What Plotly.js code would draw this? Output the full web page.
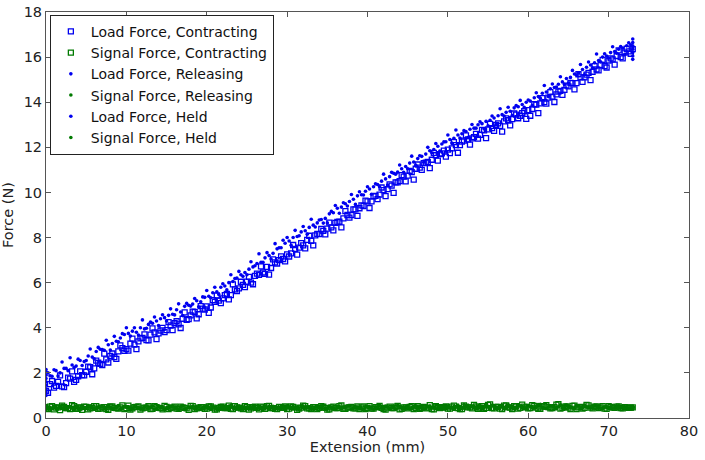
<!DOCTYPE html>
<html>
<head>
<meta charset="utf-8">
<script src="https://cdn.plot.ly/plotly-3.0.1.min.js"></script>
<style>html,body{margin:0;padding:0;background:#fff;}#chart{width:705px;height:460px;}</style>
</head>
<body>
<div id="chart"></div>
<script>
// Extension (mm) sample positions
const extA = [0,0.5,1,1.5,2,2.5,3,3.5,4,4.5,5,5.5,6,6.5,7,7.5,8,8.5,9,9.5,10,10.5,11,11.5,12,12.5,13,13.5,14,14.5,15,15.5,16,16.5,17,17.5,18,18.5,19,19.5,20,20.5,21,21.5,22,22.5,23,23.5,24,24.5,25,25.5,26,26.5,27,27.5,28,28.5,29,29.5,30,30.5,31,31.5,32,32.5,33,33.5,34,34.5,35,35.5,36,36.5,37,37.5,38,38.5,39,39.5,40,40.5,41,41.5,42,42.5,43,43.5,44,44.5,45,45.5,46,46.5,47,47.5,48,48.5,49,49.5,50,50.5,51,51.5,52,52.5,53,53.5,54,54.5,55,55.5,56,56.5,57,57.5,58,58.5,59,59.5,60,60.5,61,61.5,62,62.5,63,63.5,64,64.5,65,65.5,66,66.5,67,67.5,68,68.5,69,69.5,70,70.5,71,71.5,72,72.5,73];
const extB = [0.25,0.75,1.25,1.75,2.25,2.75,3.25,3.75,4.25,4.75,5.25,5.75,6.25,6.75,7.25,7.75,8.25,8.75,9.25,9.75,10.25,10.75,11.25,11.75,12.25,12.75,13.25,13.75,14.25,14.75,15.25,15.75,16.25,16.75,17.25,17.75,18.25,18.75,19.25,19.75,20.25,20.75,21.25,21.75,22.25,22.75,23.25,23.75,24.25,24.75,25.25,25.75,26.25,26.75,27.25,27.75,28.25,28.75,29.25,29.75,30.25,30.75,31.25,31.75,32.25,32.75,33.25,33.75,34.25,34.75,35.25,35.75,36.25,36.75,37.25,37.75,38.25,38.75,39.25,39.75,40.25,40.75,41.25,41.75,42.25,42.75,43.25,43.75,44.25,44.75,45.25,45.75,46.25,46.75,47.25,47.75,48.25,48.75,49.25,49.75,50.25,50.75,51.25,51.75,52.25,52.75,53.25,53.75,54.25,54.75,55.25,55.75,56.25,56.75,57.25,57.75,58.25,58.75,59.25,59.75,60.25,60.75,61.25,61.75,62.25,62.75,63.25,63.75,64.25,64.75,65.25,65.75,66.25,66.75,67.25,67.75,68.25,68.75,69.25,69.75,70.25,70.75,71.25,71.75,72.25,72.75];
const extHeld = [0,0,0,0,0,0,0,0,73,73,73,73,73,73,73];

// Force (N): load, contracting (pass 1 at extA, pass 2 at extB)
const loadContractingA = [1.2,1.5,1.35,1.6,1.4,1.55,1.75,1.6,1.85,1.9,
2.05,2.25,2.2,2.45,2.35,2.6,2.75,2.7,2.95,3.1,
3.05,3.3,3.25,3.4,3.55,3.45,3.7,3.8,3.75,4.0,
3.9,4.1,4.2,4.15,4.4,4.35,4.55,4.7,4.6,4.85,
4.95,4.9,5.15,5.2,5.3,5.5,5.45,5.7,5.75,5.9,
6.05,6.0,6.3,6.35,6.45,6.7,6.65,6.9,7.0,7.05,
7.25,7.3,7.5,7.55,7.65,7.9,7.85,8.1,8.15,8.3,
8.4,8.45,8.65,8.7,8.85,9.0,9.0,9.25,9.3,9.4,
9.6,9.6,9.85,9.9,10.1,10.15,10.3,10.45,10.5,10.7,
10.75,10.9,11.05,11.1,11.3,11.35,11.45,11.65,11.7,11.85,
11.9,11.95,12.1,12.1,12.3,12.35,12.4,12.6,12.55,12.75,
12.8,12.85,13.0,12.95,13.15,13.2,13.25,13.45,13.4,13.6,
13.65,13.7,13.9,13.95,14.0,14.2,14.25,14.35,14.5,14.55,
14.7,14.85,14.85,15.1,15.1,15.3,15.35,15.45,15.65,15.6,
15.85,15.9,16.05,16.0,16.2,16.25,16.35];
const loadContractingB = [1.12,1.64,1.42,1.89,1.37,1.79,2.07,1.69,2.07,1.89,
2.28,1.94,2.54,2.4,2.85,2.46,2.86,2.62,3.22,2.98,
2.99,3.52,3.05,3.53,3.71,3.44,3.97,3.5,3.88,3.81,
4.25,3.9,4.29,3.99,4.68,4.38,4.72,4.42,4.96,4.81,
4.66,5.22,5.43,5.09,5.45,5.26,5.92,5.63,6.04,5.8,
6.26,5.93,6.4,6.72,6.39,6.36,7.03,6.85,7.17,6.94,
7.16,7.67,7.24,7.75,7.52,8.08,7.65,8.16,8.38,8.14,
8.66,8.32,8.69,8.45,9.17,8.88,9.25,8.96,9.43,9.64,
9.31,9.83,9.7,10.22,9.84,10.36,9.98,10.45,10.77,10.49,
10.96,10.57,11.24,11.0,11.32,11.08,11.75,11.41,11.73,11.59,
11.74,12.23,11.76,12.25,12.53,12.12,12.45,12.39,12.77,12.41,
13.04,12.73,13.06,12.7,13.28,12.97,13.5,13.29,13.52,13.26,
13.4,13.91,13.52,14.18,13.94,14.45,14.01,14.47,14.33,14.74,
14.86,14.57,15.24,14.9,15.22,14.98,15.6,15.41,15.88,15.54,
15.94,15.67,16.3,15.94,16.37,16.15];

// Force (N): load, releasing (pass 1 at extB, pass 2 at extA)
const loadReleasingB = [2.0,1.85,2.1,2.0,2.2,2.1,2.35,2.3,2.55,2.5,
2.75,2.7,2.95,3.05,3.0,3.25,3.3,3.4,3.55,3.7,
3.75,3.85,3.8,4.0,3.95,4.15,4.2,4.3,4.4,4.45,
4.55,4.6,4.8,4.7,4.95,5.0,5.05,5.2,5.15,5.35,
5.4,5.55,5.6,5.8,5.85,6.0,6.05,6.2,6.35,6.45,
6.6,6.7,6.85,6.9,7.1,7.2,7.3,7.5,7.55,7.75,
7.85,8.0,8.05,8.25,8.3,8.45,8.55,8.65,8.8,8.85,
9.05,9.1,9.3,9.35,9.5,9.6,9.7,9.85,9.9,10.05,
10.15,10.25,10.35,10.5,10.6,10.7,10.85,10.9,11.05,11.15,
11.3,11.35,11.5,11.6,11.7,11.85,11.9,12.05,12.15,12.25,
12.35,12.4,12.55,12.6,12.7,12.8,12.85,13.0,13.05,13.15,
13.2,13.3,13.4,13.45,13.55,13.6,13.75,13.8,13.9,14.0,
14.05,14.2,14.25,14.4,14.45,14.6,14.65,14.8,14.9,15.05,
15.1,15.25,15.3,15.45,15.55,15.65,15.75,15.85,16.0,16.05,
16.2,16.25,16.35,16.4,16.5,16.55];
const loadReleasingA = [2.15,1.87,2.14,1.86,2.48,2.2,2.67,2.24,2.61,2.33,
2.55,3.06,2.62,3.13,3.04,3.45,3.01,3.62,3.38,3.74,
4.0,3.63,4.0,3.68,4.35,3.98,4.25,4.48,4.1,4.58,
4.3,4.84,4.57,5.06,4.54,5.08,4.96,5.3,4.93,5.37,
5.65,5.33,5.8,5.48,5.95,5.68,6.35,6.18,6.5,6.28,
6.35,6.93,6.75,7.28,6.9,7.33,7.05,7.73,7.55,7.88,
8.0,7.66,8.32,8.08,8.49,8.15,8.81,8.47,8.78,8.64,
8.65,9.16,9.42,9.08,9.54,9.4,9.91,9.47,10.03,9.89,
10.25,9.92,10.38,10.25,10.81,10.33,10.89,10.81,11.22,10.89,
11.05,11.61,11.22,11.63,11.34,12.0,11.76,12.17,11.83,12.24,
12.55,12.19,12.77,12.41,12.74,12.43,13.01,12.85,13.13,12.82,
12.95,13.39,13.02,13.71,13.39,13.78,13.41,13.85,14.08,13.77,
14.1,13.86,14.42,14.18,14.74,14.25,14.81,14.67,15.13,14.79,
14.85,15.41,15.21,15.67,15.22,15.78,15.53,16.14,15.79,16.15,
15.95,16.46,16.17,16.47,16.13,16.64,16.45];

// Force (N): signal, contracting (extA, extB)
const signalContractingA = [0.42,0.5,0.38,0.47,0.55,0.44,0.4,0.52,0.46,0.36,
0.49,0.43,0.53,0.41,0.47,0.39,0.5,0.45,0.42,0.56,
0.44,0.37,0.48,0.51,0.43,0.46,0.4,0.52,0.45,0.38,
0.49,0.44,0.5,0.41,0.47,0.43,0.54,0.39,0.46,0.48,
0.42,0.51,0.37,0.45,0.5,0.44,0.41,0.53,0.46,0.4,
0.48,0.43,0.5,0.38,0.47,0.52,0.44,0.41,0.49,0.45,
0.39,0.51,0.46,0.42,0.55,0.43,0.4,0.48,0.45,0.5,
0.37,0.47,0.44,0.52,0.41,0.46,0.49,0.43,0.39,0.51,
0.45,0.42,0.48,0.54,0.4,0.46,0.44,0.5,0.38,0.47,
0.43,0.52,0.45,0.41,0.49,0.46,0.4,0.53,0.44,0.48,
0.42,0.5,0.45,0.39,0.56,0.47,0.43,0.51,0.46,0.41,
0.58,0.44,0.49,0.42,0.55,0.47,0.4,0.52,0.45,0.5,
0.43,0.57,0.46,0.41,0.53,0.48,0.44,0.59,0.42,0.5,
0.46,0.54,0.4,0.49,0.45,0.56,0.43,0.51,0.47,0.42,
0.52,0.46,0.5,0.44,0.48,0.45,0.47];
const signalContractingB = [0.4,0.52,0.46,0.35,0.49,0.44,0.57,0.41,0.47,0.5,
0.38,0.45,0.53,0.42,0.48,0.36,0.51,0.44,0.47,0.4,
0.55,0.43,0.49,0.37,0.46,0.52,0.41,0.48,0.44,0.54,
0.39,0.47,0.42,0.5,0.45,0.36,0.53,0.43,0.48,0.41,
0.51,0.46,0.38,0.49,0.44,0.55,0.4,0.47,0.43,0.52,
0.37,0.48,0.45,0.5,0.41,0.54,0.44,0.39,0.47,0.51,
0.42,0.49,0.36,0.46,0.53,0.43,0.48,0.4,0.52,0.45,
0.38,0.5,0.44,0.56,0.41,0.47,0.43,0.51,0.46,0.39,
0.53,0.42,0.48,0.45,0.37,0.5,0.44,0.54,0.41,0.47,
0.49,0.4,0.52,0.45,0.43,0.57,0.38,0.48,0.46,0.51,
0.42,0.55,0.44,0.39,0.5,0.47,0.58,0.41,0.53,0.45,
0.6,0.43,0.49,0.4,0.56,0.46,0.52,0.42,0.59,0.47,
0.44,0.54,0.41,0.5,0.57,0.43,0.48,0.61,0.45,0.51,
0.4,0.55,0.47,0.42,0.58,0.46,0.5,0.44,0.53,0.41,
0.49,0.45,0.51,0.43,0.47,0.46];

// Force (N): signal, releasing (extB, extA)
const signalReleasingB = [0.47,0.41,0.53,0.45,0.38,0.5,0.44,0.48,0.35,0.46,
0.52,0.43,0.4,0.49,0.45,0.57,0.42,0.47,0.39,0.51,
0.46,0.43,0.5,0.4,0.48,0.44,0.53,0.41,0.47,0.36,
0.45,0.51,0.43,0.49,0.4,0.46,0.52,0.44,0.38,0.48,
0.45,0.5,0.42,0.47,0.39,0.53,0.44,0.41,0.49,0.46,
0.43,0.51,0.4,0.47,0.45,0.38,0.52,0.44,0.48,0.42,
0.5,0.46,0.41,0.54,0.43,0.47,0.39,0.49,0.45,0.42,
0.51,0.44,0.48,0.4,0.46,0.53,0.43,0.47,0.41,0.5,
0.45,0.38,0.49,0.44,0.52,0.42,0.47,0.55,0.43,0.46,
0.4,0.5,0.45,0.48,0.42,0.53,0.44,0.39,0.47,0.51,
0.46,0.43,0.57,0.41,0.49,0.45,0.52,0.44,0.48,0.6,
0.42,0.5,0.46,0.55,0.43,0.49,0.41,0.58,0.47,0.45,
0.52,0.44,0.6,0.48,0.42,0.54,0.46,0.5,0.43,0.57,
0.47,0.41,0.53,0.45,0.49,0.44,0.55,0.46,0.42,0.5,
0.48,0.45,0.52,0.44,0.47,0.46];
const signalReleasingA = [0.45,0.39,0.51,0.43,0.56,0.41,0.48,0.37,0.5,0.44,
0.47,0.54,0.4,0.46,0.52,0.38,0.49,0.43,0.55,0.42,
0.48,0.36,0.5,0.45,0.41,0.53,0.47,0.39,0.51,0.44,
0.42,0.49,0.46,0.37,0.54,0.43,0.48,0.4,0.5,0.45,
0.53,0.38,0.47,0.44,0.51,0.41,0.56,0.43,0.46,0.39,
0.49,0.45,0.42,0.52,0.37,0.48,0.44,0.5,0.4,0.47,
0.54,0.43,0.46,0.38,0.51,0.45,0.41,0.49,0.44,0.55,
0.42,0.47,0.39,0.5,0.46,0.53,0.4,0.48,0.44,0.37,
0.51,0.43,0.47,0.56,0.41,0.49,0.45,0.39,0.52,0.44,
0.48,0.42,0.54,0.46,0.4,0.5,0.43,0.58,0.47,0.41,
0.53,0.45,0.49,0.42,0.6,0.46,0.51,0.4,0.55,0.44,
0.48,0.57,0.43,0.52,0.41,0.59,0.47,0.45,0.54,0.42,
0.56,0.44,0.5,0.61,0.43,0.48,0.52,0.41,0.58,0.46,
0.5,0.44,0.55,0.42,0.57,0.47,0.45,0.52,0.43,0.49,
0.46,0.44,0.5,0.45,0.48,0.43,0.47];

// Force (N): held
const loadHeld = [1.0,1.15,1.3,1.45,1.6,1.75,1.9,2.05,15.9,16.05,16.2,16.35,16.5,16.65,16.8];
const signalHeld = [0.38,0.45,0.52,0.42,0.5,0.4,0.47,0.55,0.4,0.47,0.52,0.44,0.5,0.42,0.48];

const seriesNames = ['Load Force, Contracting','Signal Force, Contracting','Load Force, Releasing','Signal Force, Releasing','Load Force, Held','Signal Force, Held'];

const BLUE = '#0000f0', GREEN = '#007a00';
const sq = c => ({symbol:'square-open', size:5, color:c, line:{width:1.3, color:c}});
const dot = c => ({symbol:'circle', size:3.6, color:c, line:{width:0}});

const traces = [
  {x: extA.concat(extB), y: loadContractingA.concat(loadContractingB), name: seriesNames[0], mode:'markers', type:'scatter', marker: sq(BLUE)},
  {x: extA.concat(extB), y: signalContractingA.concat(signalContractingB), name: seriesNames[1], mode:'markers', type:'scatter', marker: sq(GREEN)},
  {x: extB.concat(extA), y: loadReleasingB.concat(loadReleasingA), name: seriesNames[2], mode:'markers', type:'scatter', marker: dot(BLUE)},
  {x: extB.concat(extA), y: signalReleasingB.concat(signalReleasingA), name: seriesNames[3], mode:'markers', type:'scatter', marker: dot(GREEN)},
  {x: extHeld, y: loadHeld, name: seriesNames[4], mode:'markers', type:'scatter', marker: dot(BLUE)},
  {x: extHeld, y: signalHeld, name: seriesNames[5], mode:'markers', type:'scatter', marker: dot(GREEN)}
];

const FONT = 'DejaVu Sans, Liberation Sans, Arial, sans-serif';
const axisCommon = {
  showgrid:false, zeroline:false, showline:true, linecolor:'#555', linewidth:1,
  mirror:'ticks', ticks:'inside', ticklen:5, tickcolor:'#555',
  tickfont:{family:FONT, size:14.5, color:'#222'}
};
const layout = {
  width:705, height:460,
  margin:{l:46, r:16, t:12, b:42},
  paper_bgcolor:'#fff', plot_bgcolor:'#fff',
  font:{family:FONT, color:'#222'},
  showlegend:true,
  legend:{x:0.006, y:0.993, xanchor:'left', yanchor:'top', bgcolor:'#fff', bordercolor:'#222', borderwidth:1,
          font:{family:FONT, size:14, color:'#111'}, tracegroupgap:0, itemsizing:'trace'},
  xaxis: Object.assign({}, axisCommon, {range:[0,80], dtick:10, tick0:0,
    title:{text:'Extension (mm)', font:{family:FONT, size:14.5, color:'#222'}, standoff:2}}),
  yaxis: Object.assign({}, axisCommon, {range:[0,18], dtick:2, tick0:0,
    title:{text:'Force (N)', font:{family:FONT, size:14.5, color:'#222'}, standoff:6}})
};
Plotly.newPlot('chart', traces, layout, {displayModeBar:false, staticPlot:true});
</script>
</body>
</html>
